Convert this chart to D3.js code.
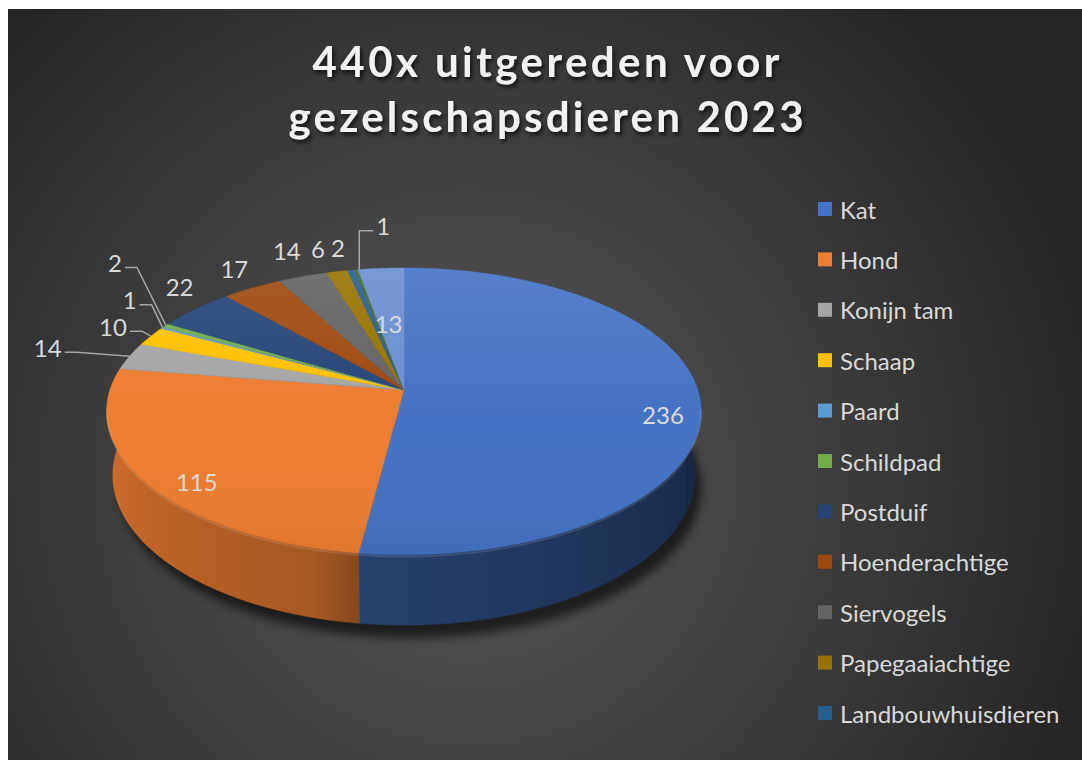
<!DOCTYPE html>
<html>
<head>
<meta charset="utf-8">
<script src="https://cdn.jsdelivr.net/npm/d3@7/dist/d3.min.js"></script>
<style>
  body { margin: 0; background: #fff; }
  svg { display: block; }
</style>
</head>
<body>
<script>
const width = 1082, height = 760;

// data (slice order = legend order, clockwise from 12 o'clock)
const categories = ["Kat", "Hond", "Konijn tam", "Schaap", "Paard", "Schildpad", "Postduif",
  "Hoenderachtige", "Siervogels", "Papegaaiachtige", "Landbouwhuisdieren", "Categorie 12", "Categorie 13"];
const values = [236, 115, 14, 10, 1, 2, 22, 17, 14, 6, 2, 1, 13];
const colors = ["#4472C4", "#ED7D31", "#A5A5A5", "#FFC000", "#5B9BD5", "#70AD47", "#264478",
  "#9E480E", "#636363", "#997300", "#255E91", "#43682B", "#698ED0"];
const legendShown = 11; // legend in the original is cut off after 11 entries
const titleLines = ["440x uitgereden voor", "gezelschapsdieren 2023"];

// label layout: "in" = inside at radius, "out" = offset from rim point, leader = elbow line
const labelLayout = [
  { type: "in", r: 0.88 }, { type: "in", r: 0.82 },
  { type: "out", dx: -82, dy: -9, leader: true }, { type: "out", dx: -38, dy: -10, leader: true },
  { type: "out", dx: -33, dy: -28, leader: true }, { type: "out", dx: -51, dy: -63, leader: true },
  { type: "out", dx: -16, dy: -23 }, { type: "out", dx: -18, dy: -20 },
  { type: "out", dx: -16, dy: -26 }, { type: "out", dx: -19, dy: -23 },
  { type: "out", dx: -13, dy: -23 }, { type: "out", dx: 27, dy: -44, leader: "up" },
  { type: "in", r: 0.64 }
];

const svg = d3.select("body").append("svg").attr("width", width).attr("height", height);
const defs = svg.append("defs");

// background
const bg = defs.append("radialGradient").attr("id", "bg")
  .attr("gradientUnits", "userSpaceOnUse").attr("cx", 470).attr("cy", 480).attr("r", 640);
bg.append("stop").attr("offset", 0).attr("stop-color", "#5a5a5a");
bg.append("stop").attr("offset", 1).attr("stop-color", "#262626");
svg.append("rect").attr("x", 8).attr("y", 9).attr("width", width - 8).attr("height", height - 9)
  .attr("fill", "url(#bg)");

const shadowF = defs.append("filter").attr("id", "tshadow").attr("x", "-10%").attr("y", "-30%").attr("width", "120%").attr("height", "160%");
shadowF.append("feDropShadow").attr("dx", 2).attr("dy", 3).attr("stdDeviation", 2)
  .attr("flood-color", "#000").attr("flood-opacity", 0.7);
defs.append("filter").attr("id", "blur").attr("x", "-20%").attr("y", "-20%").attr("width", "140%").attr("height", "140%")
  .append("feGaussianBlur").attr("stdDeviation", 5);

// title
svg.append("g").selectAll("text").data(titleLines).enter().append("text")
  .attr("x", 546).attr("y", (d, i) => 77 + i * 55)
  .attr("text-anchor", "middle")
  .attr("font-family", "Lato, 'Open Sans', sans-serif").attr("font-weight", 700)
  .attr("font-size", 42)
  .attr("textLength", (d, i) => i === 0 ? 467 : 515).attr("lengthAdjust", "spacing")
  .attr("fill", "#f2f2f2").attr("filter", "url(#tshadow)")
  .text(d => d);

// 3d pie projection
const tilt = 28.5 * Math.PI / 180, S = Math.sin(tilt), C = Math.cos(tilt);
const dist = 5.9, focal = 1734, cx = 404, cy = 390, depth = 0.25;
function project(a, r, h) {
  const X = r * Math.sin(a), Z = -r * Math.cos(a);
  const v = Z * S - h * C, d = dist - Z * C - h * S;
  return [cx + focal * X / d, cy + focal * v / d];
}
const line = d3.line();
const step = Math.PI / 360;
function arcPts(a0, a1, r, h) {
  const n = Math.max(2, Math.ceil((a1 - a0) / step));
  return d3.range(n + 1).map(i => project(a0 + (a1 - a0) * i / n, r, h));
}
const shadeScale = d3.scaleLinear()
  .domain([80, 110, 187, 195, 260, 280]).range([0.34, 0.36, 0.56, 0.70, 0.89, 0.86]).clamp(true);
function wallShade(color, a) {
  const f = shadeScale(a * 180 / Math.PI);
  const c = d3.rgb(color);
  return d3.rgb(c.r * f, c.g * f, c.b * f).formatHex();
}

const arcs = d3.pie().sort(null).startAngle(0).endAngle(2 * Math.PI)(values)
  .map((d, i) => Object.assign(d, { i, name: categories[i], color: colors[i] }));

const pie = svg.append("g");

// shadow under the pie
pie.append("path")
  .attr("d", line(arcPts(0, 2 * Math.PI, 1.0, -depth - 0.03)) + "Z")
  .attr("transform", "translate(7,5)")
  .attr("fill", "#000").attr("opacity", 0.6).attr("filter", "url(#blur)");

// outer walls: only the part turned to the viewer, shaded with a horizontal gradient
const frontA0 = 80 * Math.PI / 180, frontA1 = 280 * Math.PI / 180;
const wallData = arcs.map(d => {
  const a0 = Math.max(d.startAngle, frontA0), a1 = Math.min(d.endAngle, frontA1);
  return a1 > a0 ? { d, a0, a1 } : null;
}).filter(Boolean);
wallData.forEach((w, k) => {
  const n = Math.max(2, Math.ceil((w.a1 - w.a0) / step));
  const samples = d3.range(n + 1).map(j => {
    const a = w.a0 + (w.a1 - w.a0) * j / n;
    return { a, x: project(a, 1, 0)[0] };
  }).sort((p, q) => p.x - q.x);
  const x0 = samples[0].x, x1 = samples[samples.length - 1].x;
  const g = defs.append("linearGradient").attr("id", "wall" + k)
    .attr("gradientUnits", "userSpaceOnUse")
    .attr("x1", x0).attr("y1", 0).attr("x2", Math.max(x1, x0 + 0.1)).attr("y2", 0);
  samples.forEach(s => g.append("stop")
    .attr("offset", x1 > x0 ? (s.x - x0) / (x1 - x0) : 0)
    .attr("stop-color", wallShade(w.d.color, s.a)));
  w.grad = "url(#wall" + k + ")";
});
pie.append("g").selectAll("path").data(wallData).enter().append("path")
  .attr("d", w => line([...arcPts(w.a0, w.a1, 1, 0), ...arcPts(w.a0, w.a1, 1, -depth).reverse()]) + "Z")
  .attr("fill", w => w.grad)
  .attr("stroke", w => w.grad).attr("stroke-width", 0.5);

// top faces
pie.append("g").selectAll("path").data(arcs).enter().append("path")
  .attr("d", d => line([[cx, cy], ...arcPts(d.startAngle, d.endAngle, 1, 0)]) + "Z")
  .attr("fill", d => d.color)
  .attr("stroke", d => d.color).attr("stroke-width", 0.5);

// soft lighting over the top face and a faint bevel on the front rim
const topGrad = defs.append("linearGradient").attr("id", "topLight")
  .attr("gradientUnits", "userSpaceOnUse").attr("x1", 0).attr("y1", 268).attr("x2", 0).attr("y2", 555);
topGrad.append("stop").attr("offset", 0).attr("stop-color", "#fff").attr("stop-opacity", 0.1);
topGrad.append("stop").attr("offset", 0.55).attr("stop-color", "#fff").attr("stop-opacity", 0);
topGrad.append("stop").attr("offset", 1).attr("stop-color", "#000").attr("stop-opacity", 0.06);
pie.append("path")
  .attr("d", line(arcPts(0, 2 * Math.PI, 1, 0)) + "Z")
  .attr("fill", "url(#topLight)");
pie.append("path")
  .attr("d", line(arcPts(frontA0 + 0.3, frontA1 - 0.3, 1, -0.006)))
  .attr("fill", "none").attr("stroke", "#fff").attr("stroke-opacity", 0.12).attr("stroke-width", 2);

// data labels
const labelFont = "Lato, 'Open Sans', sans-serif";
const labels = svg.append("g")
  .attr("font-family", labelFont).attr("font-size", 24).attr("fill", "#d9d9d9");
arcs.forEach(d => {
  const L = labelLayout[d.i];
  const mid = (d.startAngle + d.endAngle) / 2;
  if (L.type === "in") {
    const p = project(mid, L.r, -depth / 4);
    labels.append("text").attr("x", p[0]).attr("y", p[1])
      .attr("text-anchor", "middle").attr("dominant-baseline", "central").text(d.value);
    return;
  }
  const rim = project(mid, 1, 0);
  const tx = rim[0] + L.dx, ty = rim[1] + L.dy;
  const t = labels.append("text").attr("x", tx).attr("y", ty)
    .attr("text-anchor", "middle").attr("dominant-baseline", "central").text(d.value);
  if (L.leader) {
    const bb = t.node().getBBox();
    let pts;
    if (L.leader === "up") {
      const lx = rim[0] + 3;
      pts = [[bb.x - 3, ty + 5], [lx, ty + 5], [lx, rim[1]]];
    } else {
      const x0 = bb.x + bb.width + 3;
      pts = [[x0, ty + 5], [x0 + 12, ty + 5], rim];
    }
    labels.append("path").attr("d", line(pts))
      .attr("fill", "none").attr("stroke", "#a6a6a6").attr("stroke-width", 1.5);
  }
});

// legend
const legend = svg.append("g").attr("transform", "translate(818, 202)");
const items = legend.selectAll("g").data(arcs.slice(0, legendShown)).enter().append("g")
  .attr("transform", (d, i) => `translate(0, ${i * 50.4})`);
items.append("rect").attr("width", 14).attr("height", 14).attr("fill", d => d.color);
items.append("text").attr("x", 22).attr("y", 7)
  .attr("dominant-baseline", "central")
  .attr("font-family", labelFont).attr("font-size", 24).attr("fill", "#d9d9d9")
  .text(d => d.name);
</script>
</body>
</html>
